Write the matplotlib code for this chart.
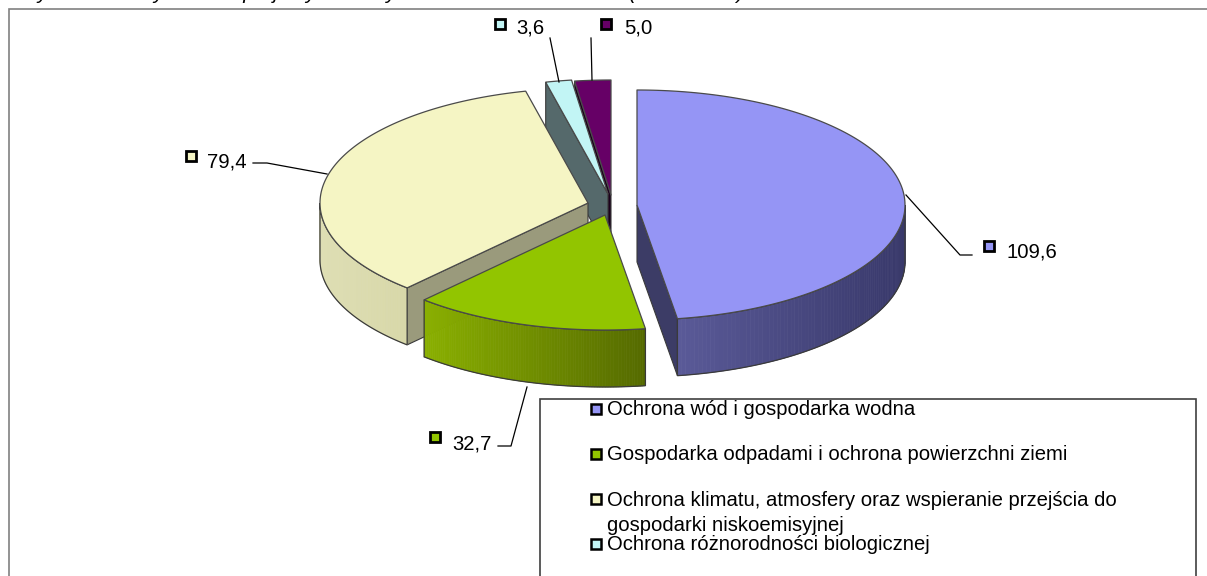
import numpy as np
import matplotlib
matplotlib.use("Agg")
import matplotlib.pyplot as plt
from matplotlib.patches import Polygon, Rectangle
from matplotlib.colors import to_rgb

plt.rcParams['font.family'] = ['Liberation Sans', 'DejaVu Sans']

# ---- data ----
values = [109.6, 32.7, 79.4, 3.6, 5.0]
value_labels = ['109,6', '32,7', '79,4', '3,6', '5,0']
legend_labels = ['Ochrona wód i gospodarka wodna',
                 'Gospodarka odpadami i ochrona powierzchni ziemi',
                 'Ochrona klimatu, atmosfery oraz wspieranie przejścia do\ngospodarki niskoemisyjnej',
                 'Ochrona różnorodności biologicznej']
title = 'Wykres 14.  Wydatki na projekty ochrony środowiska w miastach  (w mln PLN)'

# ---- style ----
top_colors = ['#9595F5', '#92C500', '#F5F5C4', '#C2F5F5', '#660066']
wall_left = ['#5A5A98', '#8AB000', '#DEDEB4', '#8FB5B5', '#3A003A']
wall_right = ['#38386A', '#556A00', '#D8D8A8', '#8FB5B5', '#3A003A']
cut_colors = ['#3C3C66', '#4F6200', '#9A9A7C', '#55696B', '#1C001C']
apex = [(637, 205), (605, 215), (588, 203), (608, 194), (611, 195)]
A, B, DEPTH = 268, 115, 57
EDGE = '#3A3A3A'

fig = plt.figure(figsize=(12.07, 5.76), dpi=100, facecolor='white')
ax = fig.add_axes([0, 0, 1, 1])
ax.set_xlim(0, 1207)
ax.set_ylim(576, 0)
ax.axis('off')

# clipped heading and panel frame
ax.text(18, -1, title, fontsize=15, style='italic', va='baseline', ha='left', color='black')
ax.plot([9, 9, 1207], [576, 8.5, 8.5], color='#808080', lw=1.2, solid_joinstyle='miter')

bounds = np.cumsum([0] + values) / sum(values) * 2 * np.pi


def pt(c, t, dy=0):
    return np.column_stack([c[0] + A * np.sin(t), c[1] - B * np.cos(t) + dy])


def lerp(c1, c2, f):
    return tuple((1 - f) * np.array(to_rgb(c1)) + f * np.array(to_rgb(c2)))


for i in [4, 3, 2, 1, 0]:
    c = apex[i]
    t0, t1 = bounds[i], bounds[i + 1]
    ts = np.linspace(t0, t1, 200)
    arc = pt(c, ts)
    base = (4 - i) * 10 + 1

    # cut faces that turn toward the viewer
    for t, visible in ((t0, np.sin(t0) < -1e-9), (t1, np.sin(t1) > 1e-9)):
        if visible:
            e = pt(c, np.array([t]))[0]
            ax.add_patch(Polygon([c, e, (e[0], e[1] + DEPTH), (c[0], c[1] + DEPTH)], closed=True,
                                 fc=cut_colors[i], ec=EDGE, lw=0.8, zorder=base))

    # outer wall where it faces the viewer
    lo, hi = max(t0, np.pi / 2), min(t1, 3 * np.pi / 2)
    if hi > lo:
        tw = np.linspace(lo, hi, 90)
        xs = c[0] + A * np.sin(tw)
        xmin, xmax = xs.min(), xs.max()
        for a0, a1 in zip(tw[:-1], tw[1:]):
            seg = np.array([a0, a1])
            p = pt(c, seg)
            f = (0.5 * (p[0, 0] + p[1, 0]) - xmin) / max(xmax - xmin, 1)
            col = lerp(wall_left[i], wall_right[i], f)
            ax.add_patch(Polygon(np.vstack([p, pt(c, seg[::-1], DEPTH)]), closed=True,
                                 fc=col, ec=col, lw=0.5, zorder=base + 1))
        ax.add_patch(Polygon(np.vstack([pt(c, tw), pt(c, tw[::-1], DEPTH)]), closed=True,
                             fc='none', ec=EDGE, lw=0.9, zorder=base + 2))

    # top face
    ax.add_patch(Polygon(np.vstack([[c], arc]), closed=True, fc=top_colors[i], ec='#4A4A4A',
                         lw=0.9, zorder=base + 3, joinstyle='round'))

# leader lines
leaders = [([906, 960, 972], [195, 255, 255]),
           ([527, 511, 498], [387, 446, 446]),
           ([327, 267, 253], [174, 163, 163]),
           ([550, 559], [38, 82]),
           ([591, 592], [38, 80])]
for lx, ly in leaders:
    ax.plot(lx, ly, color='black', lw=0.9, zorder=70)


def swatch(x, y, color, ms=7.5):
    ax.plot([x], [y], marker='s', ms=ms, mfc=color, mec='black', mew=2, zorder=71,
            ls='none')


# value labels
marker_pos = [(989, 246), (435, 437), (191, 156), (500, 24), (606, 24)]
text_pos = [(1007, 257), (452, 449), (207, 167), (516, 33), (624, 33)]
for lab, col, mp, tp in zip(value_labels, top_colors, marker_pos, text_pos):
    swatch(mp[0], mp[1], col)
    ax.text(tp[0], tp[1], lab, fontsize=14.6, va='baseline', ha='left', color='black', zorder=72)

# legend box
ax.add_patch(Rectangle((540, 399), 656, 190, fc='white', ec='#404040', lw=1.2, zorder=80))
legend_marker_y = [409, 454, 499, 544]
legend_base_y = [415, 460, 506, 550]
for lab, col, my, by in zip(legend_labels, top_colors, legend_marker_y, legend_base_y):
    ax.plot([596], [my], marker='s', ms=6.5, mfc=col, mec='black', mew=1.8, zorder=81, ls='none')
    first, *rest = lab.split('\n')
    ax.text(607, by, first, fontsize=14.55, va='baseline', ha='left', color='black', zorder=82)
    for n, extra in enumerate(rest, 1):
        ax.text(607, by + 25 * n, extra, fontsize=14.55, va='baseline', ha='left', color='black', zorder=82)

fig.savefig('out.png', dpi=100)
